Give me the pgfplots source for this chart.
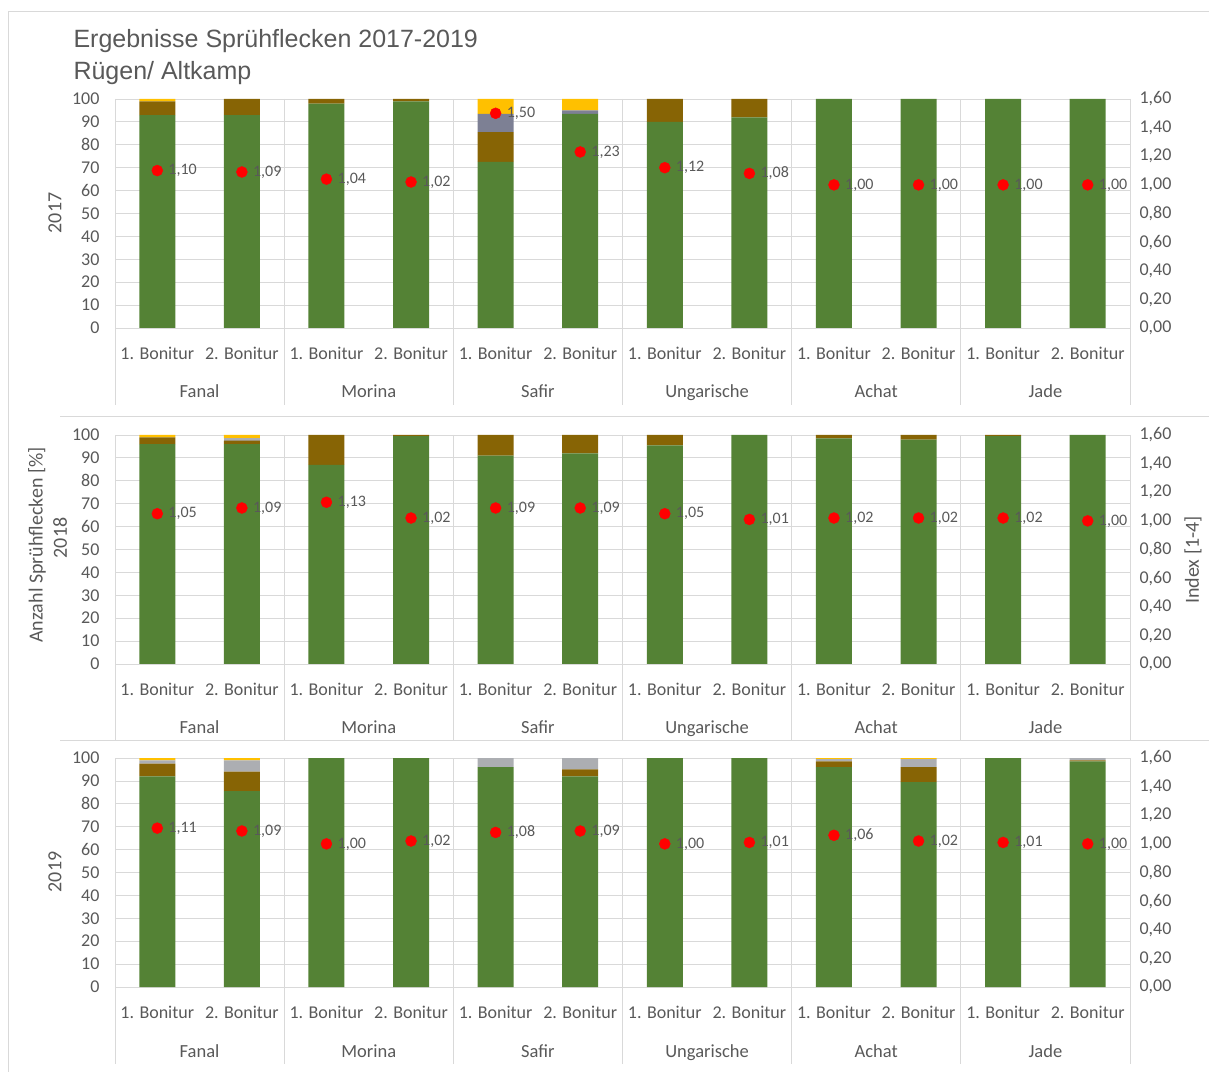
\documentclass[border=0pt]{standalone}
\usepackage{pgfplots}
\pgfplotsset{compat=1.18}
\usepackage{pgfplotstable}
\usepackage{fontspec}
\setmainfont{Carlito}
\newfontfamily\titlefont{Liberation Sans}

\definecolor{cgreen}{RGB}{84,130,53}
\definecolor{cbrown}{RGB}{135,100,5}
\definecolor{cgray}{RGB}{125,128,148}
\definecolor{clgray}{RGB}{172,174,178}
\definecolor{cyellow}{RGB}{255,192,0}
\definecolor{ctext}{RGB}{89,89,89}
\definecolor{cgrid}{RGB}{217,217,217}

\newcommand\fs[1]{\fontsize{#1}{#1}\selectfont}

% x g=green b=brown gr=gray ye=yellow idx=index
\pgfplotstableread{
x g b gr ye idx
0 93 6 0 1 1.10
1 93 7 0 0 1.09
2 98 2 0 0 1.04
3 99 1 0 0 1.02
4 72.5 13 8 6.5 1.50
5 93.5 0 1.5 5 1.23
6 90 10 0 0 1.12
7 92 8 0 0 1.08
8 100 0 0 0 1.00
9 100 0 0 0 1.00
10 100 0 0 0 1.00
11 100 0 0 0 1.00
}\tabA

\pgfplotstableread{
x g b gr ye idx
0 96 3 0 1 1.05
1 96 1.5 1 1.5 1.09
2 87 13 0 0 1.13
3 99.5 0.5 0 0 1.02
4 91 9 0 0 1.09
5 92 8 0 0 1.09
6 95.5 4.5 0 0 1.05
7 100 0 0 0 1.01
8 98.5 1.5 0 0 1.02
9 98 2 0 0 1.02
10 99.5 0.5 0 0 1.02
11 100 0 0 0 1.00
}\tabB

\pgfplotstableread{
x g b gr ye idx
0 92 5.5 1.5 1 1.11
1 85.5 8.5 5 1 1.09
2 100 0 0 0 1.00
3 100 0 0 0 1.02
4 96 0 4 0 1.08
5 92 3 5 0 1.09
6 100 0 0 0 1.00
7 100 0 0 0 1.01
8 96 2.5 1 0.5 1.06
9 89.5 6.5 3.5 0.5 1.02
10 100 0 0 0 1.01
11 98.5 0.5 1 0 1.00
}\tabC

\tikzset{grp/.style={text=ctext, font=\fs{18.5}, anchor=base}}

\pgfplotsset{
  /pgf/number format/assume math mode=true,
  common/.style={
    scale only axis, width=1015pt, height=229pt, anchor=south west,
    xmin=-0.5, xmax=11.5, ymin=0, enlargelimits=false,
    axis line style={draw=none}, major tick length=0pt,
    tick label style={text=ctext, font=\fs{18}},
  },
  barax/.style={common, ymax=100, ytick={0,10,...,100},
    ymajorgrids, grid style={cgrid, line width=0.8pt},
    ybar stacked, bar width=36pt, clip=false,
    xtick={0,...,11},
    xticklabels={1. Bonitur,2. Bonitur,1. Bonitur,2. Bonitur,1. Bonitur,2. Bonitur,
      1. Bonitur,2. Bonitur,1. Bonitur,2. Bonitur,1. Bonitur,2. Bonitur},
    xticklabel style={yshift=-16pt},
    yticklabel style={xshift=-12pt},
  },
  dotax/.style={common, ymax=1.6, ytick={0,0.2,0.4,0.6,0.8,1,1.2,1.4,1.6},
    hide x axis, axis y line*=right,
    yticklabel style={xshift=6pt, /pgf/number format/.cd, fixed, fixed zerofill, precision=2, use comma},
  },
}

\newcommand{\panel}[3]{%
\begin{axis}[barax, at={(115pt,#2)}]
\addplot[fill=cgreen, draw=none] table[x=x,y=g]{#1};
\addplot[fill=cbrown, draw=none] table[x=x,y=b]{#1};
\addplot[fill=#3, draw=none] table[x=x,y=gr]{#1};
\addplot[fill=cyellow, draw=none] table[x=x,y=ye]{#1};
\pgfplotsinvokeforeach{-0.5,1.5,3.5,5.5,7.5,9.5,11.5}{%
  \draw[cgrid, line width=0.8pt] (axis cs:##1,100) -- ([yshift=-77pt]axis cs:##1,0);}
\node[grp] at ([yshift=-70pt]axis cs:0.5,0) {Fanal};
\node[grp] at ([yshift=-70pt]axis cs:2.5,0) {Morina};
\node[grp] at ([yshift=-70pt]axis cs:4.5,0) {Safir};
\node[grp] at ([yshift=-70pt]axis cs:6.5,0) {Ungarische};
\node[grp] at ([yshift=-70pt]axis cs:8.5,0) {Achat};
\node[grp] at ([yshift=-70pt]axis cs:10.5,0) {Jade};
\end{axis}
\begin{axis}[dotax, at={(115pt,#2)}]
\addplot[only marks, mark=*, mark size=5.5pt, color=red,
  nodes near coords={\pgfmathprintnumber[fixed,fixed zerofill,precision=2,use comma]{\pgfplotspointmeta}},
  point meta=y,
  every node near coord/.append style={anchor=west, xshift=11pt, inner sep=0pt, text=ctext, font=\fs{16}}]
  table[x=x,y=idx]{#1};
\end{axis}}

\begin{document}
\begin{tikzpicture}
\useasboundingbox (0,0) rectangle (1209pt,1071pt);
\draw[cgrid, line width=1pt] (8pt,-5pt) -- (8pt,1059pt) -- (1215pt,1059pt);
\draw[cgrid, line width=1pt] (60pt,654pt) -- (1209pt,654pt);
\draw[cgrid, line width=1pt] (60pt,330pt) -- (1209pt,330pt);

\panel{\tabA}{743pt}{cgray}
\panel{\tabB}{407pt}{clgray}
\panel{\tabC}{84pt}{clgray}

\node[anchor=base west, text=ctext, font=\titlefont\fs{25}] at (70pt,1023pt) {Ergebnisse Sprühflecken 2017-2019};
\node[anchor=base west, text=ctext, font=\titlefont\fs{25}] at (70pt,991pt) {Rügen/ Altkamp};

\node[rotate=90, text=ctext, font=\fs{20}] at (55pt,858pt) {2017};
\node[rotate=90, text=ctext, font=\fs{20}] at (37pt,526pt) {Anzahl Sprühflecken [\%]};
\node[rotate=90, text=ctext, font=\fs{20}] at (60pt,533pt) {2018};
\node[rotate=90, text=ctext, font=\fs{20}] at (55pt,199pt) {2019};
\node[rotate=90, text=ctext, font=\fs{20}] at (1193pt,511pt) {Index [1-4]};
\end{tikzpicture}
\end{document}
